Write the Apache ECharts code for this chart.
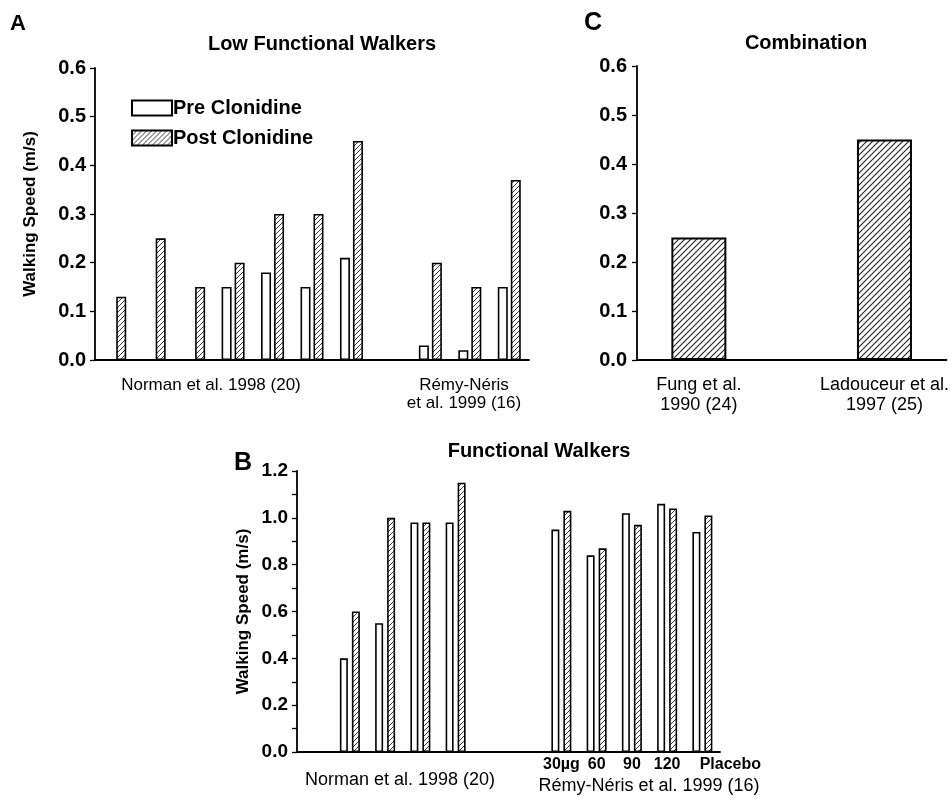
<!DOCTYPE html>
<html><head><meta charset="utf-8">
<script src="https://cdn.jsdelivr.net/npm/echarts@6/dist/echarts.min.js"></script>
<style>html,body{margin:0;padding:0;background:#fff}#c{width:952px;height:800px}</style>
</head><body><div id="c"></div>
<script>
// ---- Data ----
var aCategories = ['N1','N2','N3','N4','N5','N6','N7','gap','R1','R2','R3'];
var aPre  = [0, 0, 0, 0.15, 0.18, 0.15, 0.21, 0, 0.03, 0.02, 0.15];
var aPost = [0.13, 0.25, 0.15, 0.20, 0.30, 0.30, 0.45, 0, 0.20, 0.15, 0.37];

var bCategories = ['g0','N1','N2','N3','N4','g1','g2','30µg','60','90','120','Placebo'];
var bPre  = [null, 0.40, 0.55, 0.98, 0.98, null, null, 0.95, 0.84, 1.02, 1.06, 0.94];
var bPost = [null, 0.60, 1.00, 0.98, 1.15, null, null, 1.03, 0.87, 0.97, 1.04, 1.01];

var cCategories = ['c0','Fung et al.\n1990 (24)','c2','c3','Ladouceur et al.\n1997 (25)','c5'];
var cValues = [null, 0.25, null, null, 0.45, null];

var aYTicks = [0, 0.6, 0.1];
var bYTicks = [0, 1.2, 0.2];

// ---- Hatch pattern ----
function hatch(s, lw){
  var cv = document.createElement('canvas'); cv.width = s; cv.height = s;
  var g = cv.getContext('2d');
  g.fillStyle = '#fff'; g.fillRect(0,0,s,s);
  g.strokeStyle = '#222'; g.lineWidth = lw;
  g.beginPath();
  g.moveTo(-1, s+1); g.lineTo(s+1, -1);
  g.moveTo(-1, 1); g.lineTo(1, -1);
  g.moveTo(s-1, s+1); g.lineTo(s+1, s-1);
  g.stroke();
  return cv;
}
var hatchSmall = hatch(5, 0.9);
var hatchBig = hatch(6, 1.1);

var FONT = '"Liberation Sans", Arial, sans-serif';
var preStyle = {color:'#fff', borderColor:'#000', borderWidth:1.6};
var postStyle = {color:{image:hatchSmall, repeat:'repeat'}, borderColor:'#000', borderWidth:1.6};
var postStyleC = {color:{image:hatchBig, repeat:'repeat'}, borderColor:'#000', borderWidth:2};

function yAxisCommon(t, gridIndex, name, nameGap, minor, fs, margin){
  return {
    type:'value', gridIndex:gridIndex, min:t[0], max:t[1], interval:t[2],
    name:name, nameLocation:'middle', nameGap:nameGap,
    nameTextStyle:{fontFamily:FONT, fontWeight:'bold', fontSize:17, color:'#000'},
    axisLine:{show:true, lineStyle:{color:'#000', width:1.8}},
    axisTick:{show:true, length:5, lineStyle:{color:'#000', width:1.3}},
    minorTick: minor ? {show:true, splitNumber:2, length:5, lineStyle:{color:'#000', width:1.3}} : {show:false},
    splitLine:{show:false},
    axisLabel:{fontFamily:FONT, fontWeight:'bold', fontSize:fs, color:'#000', margin:margin,
      formatter:function(v){return v.toFixed(1);}}
  };
}

var option = {
  animation:false,
  backgroundColor:'#fff',
  grid:[
    {left:95, top:68, width:434, height:292},
    {left:297, top:471, width:423, height:281},
    {left:637, top:66, width:314, height:294}
  ],
  legend:{
    orient:'vertical', left:126, top:93, itemGap:10, itemWidth:40, itemHeight:15,
    data:['Pre Clonidine','Post Clonidine'],
    textStyle:{fontFamily:FONT, fontWeight:'bold', fontSize:20, color:'#000', padding:[0,0,0,-4]},
    selectedMode:false, icon:'rect'
  },
  xAxis:[
    {type:'category', gridIndex:0, data:aCategories,
     axisLine:{lineStyle:{color:'#000', width:1.8}}, axisTick:{show:false}, axisLabel:{show:false}},
    {type:'category', gridIndex:1, data:bCategories,
     axisLine:{lineStyle:{color:'#000', width:1.8}}, axisTick:{show:false},
     axisLabel:{interval:0, fontFamily:FONT, fontWeight:'bold', fontSize:16, color:'#000', margin:5,
       formatter:function(v){
         if (/^(g\d|N\d)$/.test(v)) return '';
         if (v === 'Placebo') return '{p|' + v + '}';
         return v;
       },
       rich:{p:{fontFamily:FONT, fontWeight:'bold', fontSize:16, color:'#000', padding:[0,0,0,56]}}}},
    {type:'category', gridIndex:2, data:cCategories, boundaryGap:false,
     axisLine:{lineStyle:{color:'#000', width:2.2}}, axisTick:{show:false},
     axisLabel:{interval:0, fontFamily:FONT, fontSize:18, lineHeight:20, color:'#000', margin:15,
       formatter:function(v){ return /^c\d$/.test(v) ? '' : v; }}}
  ],
  yAxis:[
    yAxisCommon(aYTicks, 0, 'Walking Speed (m/s)', 56, false, 20, 9),
    yAxisCommon(bYTicks, 1, 'Walking Speed (m/s)', 45, true, 19, 9),
    yAxisCommon(aYTicks, 2, '', 0, false, 20, 10)
  ],
  series:[
    {name:'Pre Clonidine', type:'bar', xAxisIndex:0, yAxisIndex:0, data:aPre, barWidth:10, barGap:'30%', itemStyle:preStyle},
    {name:'Post Clonidine', type:'bar', xAxisIndex:0, yAxisIndex:0, data:aPost, barWidth:10, barGap:'30%', itemStyle:postStyle},
    {name:'Pre Clonidine', type:'bar', xAxisIndex:1, yAxisIndex:1, data:bPre, barWidth:8, barGap:'50%', itemStyle:preStyle},
    {name:'Post Clonidine', type:'bar', xAxisIndex:1, yAxisIndex:1, data:bPost, barWidth:8, barGap:'50%', itemStyle:postStyle},
    {name:'Combination', type:'bar', xAxisIndex:2, yAxisIndex:2, data:cValues, barWidth:55, itemStyle:postStyleC}
  ],
  graphic:[
    {type:'text', left:10, top:13, style:{text:'A', font:'bold 22px ' + FONT, fill:'#000'}},
    {type:'text', left:584, top:11, style:{text:'C', font:'bold 25px ' + FONT, fill:'#000'}},
    {type:'text', left:234, top:451, style:{text:'B', font:'bold 25px ' + FONT, fill:'#000'}},
    {type:'text', x:322, y:44, style:{text:'Low Functional Walkers', font:'bold 20px ' + FONT, fill:'#000', textAlign:'center', textVerticalAlign:'middle'}},
    {type:'text', x:806, y:43, style:{text:'Combination', font:'bold 20px ' + FONT, fill:'#000', textAlign:'center', textVerticalAlign:'middle'}},
    {type:'text', x:539, y:451, style:{text:'Functional Walkers', font:'bold 20px ' + FONT, fill:'#000', textAlign:'center', textVerticalAlign:'middle'}},
    {type:'text', x:211, y:385, style:{text:'Norman et al. 1998 (20)', font:'17px ' + FONT, fill:'#000', textAlign:'center', textVerticalAlign:'middle'}},
    {type:'text', x:464, y:394, style:{text:'Rémy-Néris\net al. 1999 (16)', font:'17px ' + FONT, lineHeight:18, fill:'#000', textAlign:'center', textVerticalAlign:'middle'}},
    {type:'text', x:400, y:780, style:{text:'Norman et al. 1998 (20)', font:'18px ' + FONT, fill:'#000', textAlign:'center', textVerticalAlign:'middle'}},
    {type:'text', x:649, y:786, style:{text:'Rémy-Néris et al. 1999 (16)', font:'18px ' + FONT, fill:'#000', textAlign:'center', textVerticalAlign:'middle'}}
  ]
};
var chart = echarts.init(document.getElementById('c'), null, {renderer:'canvas'});
chart.setOption(option);
</script></body></html>
